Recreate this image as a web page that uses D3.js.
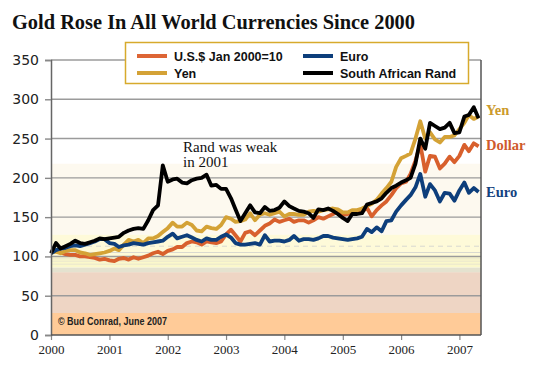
<!DOCTYPE html>
<html>
<head>
<meta charset="utf-8">
<script src="https://cdn.jsdelivr.net/npm/d3@7"></script>
<style>
  body { margin: 0; background: #fff; }
  svg { display: block; }
</style>
</head>
<body>
<svg id="chart" width="536" height="374"></svg>
<script>
// monthly index values, Jan 2000 = 100 (well, "10" in the legend)
const startYear = 2000;
const yTicks = [0, 50, 100, 150, 200, 250, 300, 350];
const yearTicks = [2000, 2001, 2002, 2003, 2004, 2005, 2006, 2007];

const dollar = [105,107,105,103,102,102,100,100,99,98,96,97,
  95,94,97,98,96,99,97,99,101,104,106,103,
  107,109,112,112,117,119,118,115,119,118,117,119,
  128,134,127,119,130,132,127,133,139,142,147,144,
  146,148,144,146,146,143,146,150,148,151,154,157,
  153,154,157,157,157,162,151,159,165,170,178,187,
  193,195,205,222,243,208,228,227,212,218,227,220,
  228,242,234,244,240];

const yen = [105,106,104,107,108,108,105,104,102,103,104,105,
  107,110,108,115,121,119,121,117,123,123,126,131,
  136,143,138,138,143,140,133,132,138,136,135,140,
  150,148,144,145,147,155,146,153,155,153,155,157,
  151,154,154,153,153,157,158,157,159,160,161,160,
  156,156,159,159,161,164,167,172,180,187,195,214,
  225,228,231,250,272,250,258,249,245,252,252,254,
  262,270,280,275,278];

const euro = [104,108,110,111,113,114,113,115,117,119,122,122,
  117,116,112,114,115,117,116,115,117,118,119,120,
  125,129,123,125,127,124,121,119,123,121,121,125,
  128,124,117,115,115,116,117,115,127,119,120,120,
  119,121,126,120,122,122,121,123,126,126,124,123,
  122,121,122,123,125,135,131,137,132,145,146,157,
  165,172,178,188,205,176,192,184,170,181,180,171,
  184,194,181,187,182];

const rand = [104,117,110,113,116,120,117,116,118,120,123,122,
  123,124,125,130,133,135,136,135,146,159,165,216,
  195,198,199,194,193,197,199,200,204,190,191,186,
  186,174,160,145,155,165,156,155,163,158,159,162,
  170,164,161,158,157,155,149,160,159,161,158,154,
  149,145,154,154,155,166,168,170,174,181,187,190,
  194,197,200,218,250,237,270,266,262,264,270,257,
  258,278,280,290,276];

const seriesNames = ["U.S.$ Jan 2000=10", "Yen", "Euro", "South African Rand"];
const endLabels = ["Dollar", "Yen", "Euro"];

// background shading, in index units
const bandLow = [0, 28, 80, 86, 100, 128];
const bandHigh = [28, 80, 86, 100, 128, 218];

const svg = d3.select("#chart");

const x = d3.scaleTime()
  .domain([new Date(2000, 0, 1), new Date(2007, 0, 1)])
  .range([51, 459.4]);
const y = d3.scaleLinear().domain([0, 350]).range([335, 60]);
const xRight = 481;

const dates = dollar.map((d, i) => new Date(startYear, i, 1));

// title
svg.append("text")
  .attr("x", 12).attr("y", 29)
  .attr("font-family", "Liberation Serif, DejaVu Serif, serif")
  .attr("font-weight", "bold")
  .attr("font-size", 21)
  .attr("textLength", 403)
  .attr("lengthAdjust", "spacingAndGlyphs")
  .attr("fill", "#111")
  .text("Gold Rose In All World Currencies Since 2000");

// bands
const bandColors = ["#ffcb98", "#eed5c4", "#e4e2cf", "#fbf8cb", "#fefad9", "#fdf9ef"];
svg.append("g").selectAll("rect")
  .data(bandLow)
  .enter().append("rect")
  .attr("x", x(new Date(2000, 0, 1)))
  .attr("width", xRight - x(new Date(2000, 0, 1)))
  .attr("y", (d, i) => y(bandHigh[i]))
  .attr("height", (d, i) => y(d) - y(bandHigh[i]))
  .attr("fill", (d, i) => bandColors[i]);

// faint stripes in the yellow zone
const stripes = [90, 94, 97];
svg.append("g").selectAll("line")
  .data(stripes)
  .enter().append("line")
  .attr("x1", 51).attr("x2", xRight)
  .attr("y1", d => y(d)).attr("y2", d => y(d))
  .attr("stroke", "#efeccd").attr("stroke-width", 1.5);

svg.append("line")
  .attr("x1", 51).attr("x2", xRight)
  .attr("y1", y(113)).attr("y2", y(113))
  .attr("stroke", "#d8d8d0").attr("stroke-dasharray", "5,4");
svg.append("line")
  .attr("x1", 51).attr("x2", xRight)
  .attr("y1", y(105)).attr("y2", y(105))
  .attr("stroke", "#d9d9d0").attr("stroke-width", 1.2);

// gridlines
svg.append("g").selectAll("line")
  .data(yTicks.filter(d => d > 0))
  .enter().append("line")
  .attr("x1", 51).attr("x2", xRight)
  .attr("y1", d => y(d)).attr("y2", d => y(d))
  .attr("stroke", "#9b9b9b").attr("stroke-width", 1.4);

// copyright
svg.append("text")
  .attr("x", 58).attr("y", 325)
  .attr("font-family", "Liberation Sans, Arial, sans-serif")
  .attr("font-size", 10)
  .attr("font-weight", "bold")
  .attr("textLength", 109)
  .attr("lengthAdjust", "spacingAndGlyphs")
  .attr("fill", "#222")
  .text("© Bud Conrad, June 2007");

// lines
const line = d3.line()
  .x((d, i) => x(dates[i]))
  .y(d => y(d));

const drawOrder = [
  { values: dollar, color: "#d8602d" },
  { values: yen, color: "#d4a236" },
  { values: euro, color: "#0d3e7b" },
  { values: rand, color: "#000000" }
];
svg.append("g").selectAll("path")
  .data(drawOrder)
  .enter().append("path")
  .attr("d", d => line(d.values))
  .attr("fill", "none")
  .attr("stroke", d => d.color)
  .attr("stroke-width", 3.8)
  .attr("stroke-linejoin", "round");

// axes
const yAxis = svg.append("g")
  .attr("transform", "translate(51,0)")
  .call(d3.axisLeft(y).tickValues(yTicks).tickSize(6).tickPadding(6));
yAxis.select(".domain").attr("stroke", "#666").attr("stroke-width", 1.5);
yAxis.selectAll(".tick line").attr("stroke", "#888").attr("stroke-width", 1.4);
yAxis.selectAll("text")
  .attr("font-family", "DejaVu Sans, Verdana, sans-serif")
  .attr("font-size", 14)
  .attr("fill", "#222");

const xAxis = svg.append("g")
  .attr("transform", "translate(0,335)")
  .call(d3.axisBottom(x)
    .tickValues(yearTicks.map(d => new Date(d, 0, 1)))
    .tickFormat(d3.timeFormat("%Y"))
    .tickSize(5).tickPadding(5));
xAxis.select(".domain").remove();
xAxis.selectAll(".tick line").attr("stroke", "#888").attr("stroke-width", 1.2);
xAxis.selectAll("text")
  .attr("font-family", "Liberation Serif, DejaVu Serif, serif")
  .attr("font-size", 13)
  .attr("fill", "#222");

// frame
svg.append("line")
  .attr("x1", 51).attr("x2", xRight)
  .attr("y1", 335).attr("y2", 335)
  .attr("stroke", "#555").attr("stroke-width", 1.5);
svg.append("line")
  .attr("x1", xRight).attr("x2", xRight)
  .attr("y1", y(350)).attr("y2", 335)
  .attr("stroke", "#555").attr("stroke-width", 1.5);

// legend
const legend = svg.append("g");
legend.append("rect")
  .attr("x", 125.5).attr("y", 42.5)
  .attr("width", 343).attr("height", 41)
  .attr("fill", "#fff")
  .attr("stroke", "#d7aa2c").attr("stroke-width", 1.5);

const legendColors = ["#dd6535", "#d4a236", "#0d3e7b", "#000000"];
const legendX = [137, 137, 303, 303];
const legendY = [56, 73, 56, 73];
legend.selectAll("line")
  .data(seriesNames)
  .enter().append("line")
  .attr("x1", (d, i) => legendX[i]).attr("x2", (d, i) => legendX[i] + 30)
  .attr("y1", (d, i) => legendY[i]).attr("y2", (d, i) => legendY[i])
  .attr("stroke", (d, i) => legendColors[i])
  .attr("stroke-width", 4);
legend.selectAll("text")
  .data(seriesNames)
  .enter().append("text")
  .attr("x", (d, i) => legendX[i] + 37)
  .attr("y", (d, i) => legendY[i] + 4.5)
  .attr("font-family", "Liberation Sans, Arial, sans-serif")
  .attr("font-weight", "bold")
  .attr("font-size", 12.5)
  .attr("fill", "#111")
  .text(d => d);

// annotation
const note = svg.append("text")
  .attr("font-family", "Liberation Serif, DejaVu Serif, serif")
  .attr("font-size", 15)
  .attr("fill", "#111");
note.append("tspan").attr("x", 183).attr("y", 152).text("Rand was weak");
note.append("tspan").attr("x", 183).attr("y", 167).text("in 2001");

// right-side labels
const endColors = ["#cf5a2c", "#cc9a2c", "#14437f"];
const endY = [150, 115, 197];
svg.append("g").selectAll("text")
  .data(endLabels)
  .enter().append("text")
  .attr("x", 486)
  .attr("y", (d, i) => endY[i])
  .attr("font-family", "Liberation Serif, DejaVu Serif, serif")
  .attr("font-weight", "bold")
  .attr("font-size", 14.5)
  .attr("fill", (d, i) => endColors[i])
  .text(d => d);
</script>
</body>
</html>
